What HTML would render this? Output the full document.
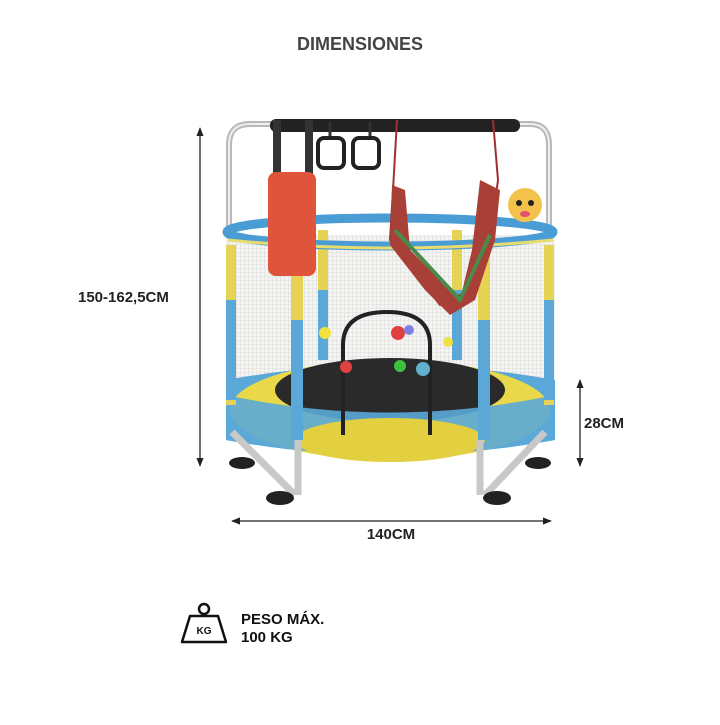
<!DOCTYPE html>
<html><head><meta charset="utf-8"><style>
body{margin:0;background:#fff;width:720px;height:720px;overflow:hidden;font-family:"Liberation Sans",sans-serif}
</style></head><body>
<svg width="720" height="720" viewBox="0 0 720 720" xmlns="http://www.w3.org/2000/svg">
<defs>
<pattern id="net" width="4" height="4" patternUnits="userSpaceOnUse"><rect width="4" height="4" fill="#f4f4f2"/><path d="M0 0H4M0 0V4" stroke="#c9c9c9" stroke-width="0.6"/></pattern>
<marker id="ah" viewBox="0 0 10 10" refX="9" refY="5" markerWidth="7" markerHeight="7" orient="auto-start-reverse"><path d="M0 1L10 5L0 9z" fill="#222"/></marker>
</defs>
<text x="360" y="50" text-anchor="middle" font-size="18" font-weight="bold" fill="#444">DIMENSIONES</text>
<!-- arrows -->
<line x1="200" y1="128" x2="200" y2="466" stroke="#222" stroke-width="1.3" marker-start="url(#ah)" marker-end="url(#ah)"/>
<line x1="232" y1="521" x2="551" y2="521" stroke="#222" stroke-width="1.3" marker-start="url(#ah)" marker-end="url(#ah)"/>
<line x1="580" y1="380" x2="580" y2="466" stroke="#222" stroke-width="1.3" marker-start="url(#ah)" marker-end="url(#ah)"/>
<text x="78" y="302" font-size="15" font-weight="bold" fill="#222">150-162,5CM</text>
<text x="584" y="428" font-size="15" font-weight="bold" fill="#222">28CM</text>
<text x="391" y="539" text-anchor="middle" font-size="15" font-weight="bold" fill="#222">140CM</text>
<!-- frame uprights -->
<path d="M229 440V145Q229 124 250 124H530Q549 124 549 145V440" fill="none" stroke="#b8b8b8" stroke-width="6"/>
<path d="M229 440V145Q229 124 250 124H530Q549 124 549 145V440" fill="none" stroke="#eee" stroke-width="2"/>
<rect x="270" y="119" width="250" height="13" rx="6" fill="#222"/>
<!-- net -->
<path d="M226 235H555V440H226Z" fill="url(#net)"/>
<!-- lower blue band -->
<path d="M226 380Q390 350 555 380V440Q390 470 226 440Z" fill="#5aa8d8"/>
<ellipse cx="390" cy="410" rx="160" ry="50" fill="#e8d84a"/>
<ellipse cx="390" cy="390" rx="115" ry="32" fill="#2a2a2a"/>
<path d="M226 395Q390 430 555 395V440Q390 470 226 440Z" fill="#5aa8d8" opacity="0.9"/>
<ellipse cx="390" cy="440" rx="95" ry="22" fill="#e2d040"/>
<!-- poles -->
<rect x="318" y="230" width="10" height="130" fill="#e6d355"/><rect x="318" y="290" width="10" height="70" fill="#5aa8d8"/>
<rect x="452" y="230" width="10" height="130" fill="#e6d355"/><rect x="452" y="290" width="10" height="70" fill="#5aa8d8"/>
<rect x="291" y="245" width="12" height="195" fill="#e6d355"/><rect x="291" y="320" width="12" height="120" fill="#5aa8d8"/>
<rect x="478" y="245" width="12" height="195" fill="#e6d355"/><rect x="478" y="320" width="12" height="120" fill="#5aa8d8"/>
<rect x="226" y="245" width="10" height="160" fill="#e6d355"/><rect x="226" y="300" width="10" height="100" fill="#5aa8d8"/>
<rect x="544" y="245" width="10" height="160" fill="#e6d355"/><rect x="544" y="300" width="10" height="100" fill="#5aa8d8"/>
<!-- top ring -->
<ellipse cx="390" cy="232" rx="163" ry="14" fill="none" stroke="#4a9cd4" stroke-width="9"/>
<path d="M228 240Q390 256 553 240" fill="none" stroke="#e8dc70" stroke-width="3"/>
<!-- arch -->
<path d="M343 435V345Q343 312 387 312Q430 312 430 345V435" fill="none" stroke="#222" stroke-width="4"/>
<!-- balls -->
<circle cx="325" cy="333" r="6" fill="#f0e040"/><circle cx="398" cy="333" r="7" fill="#e04040"/><circle cx="409" cy="330" r="5" fill="#8080e0"/>
<circle cx="448" cy="342" r="5" fill="#f0e040"/><circle cx="346" cy="367" r="6" fill="#e04040"/><circle cx="400" cy="366" r="6" fill="#40c040"/><circle cx="423" cy="369" r="7" fill="#60b0d0"/>
<!-- legs -->
<path d="M232 432L295 495M298 440V495M480 440V495M545 432L485 495" stroke="#c8c8c8" stroke-width="7" fill="none"/>
<ellipse cx="242" cy="463" rx="13" ry="6" fill="#222"/><ellipse cx="280" cy="498" rx="14" ry="7" fill="#222"/>
<ellipse cx="497" cy="498" rx="14" ry="7" fill="#222"/><ellipse cx="538" cy="463" rx="13" ry="6" fill="#222"/>
<!-- bag -->
<rect x="273" y="120" width="8" height="55" fill="#333"/><rect x="305" y="120" width="8" height="55" fill="#333"/>
<rect x="268" y="172" width="48" height="104" rx="8" fill="#e0543c"/>
<!-- rings -->
<path d="M330 122V138M370 122V138" stroke="#333" stroke-width="3"/>
<rect x="318" y="138" width="26" height="30" rx="6" fill="none" stroke="#222" stroke-width="4"/>
<rect x="353" y="138" width="26" height="30" rx="6" fill="none" stroke="#222" stroke-width="4"/>
<!-- hammock -->
<path d="M397 120L393 190L390 240L440 305L470 290L490 240L498 180L493 120" fill="none" stroke="#a03030" stroke-width="2"/>
<path d="M392 185L405 190L410 250L460 300L472 250L480 180L500 190L495 240L475 300L450 315L425 290L390 245Z" fill="#a84038"/>
<path d="M395 230L460 300L490 235" fill="none" stroke="#4a8a4a" stroke-width="4"/>
<!-- tiger -->
<circle cx="525" cy="205" r="17" fill="#f2c24a"/><circle cx="519" cy="203" r="3" fill="#222"/><circle cx="531" cy="203" r="3" fill="#222"/><ellipse cx="525" cy="214" rx="5" ry="3" fill="#e05070"/>
<!-- weight icon -->
<circle cx="204" cy="609" r="5" fill="none" stroke="#111" stroke-width="2.5"/>
<path d="M190 616H218L226 642H182Z" fill="none" stroke="#111" stroke-width="2.5" stroke-linejoin="round"/>
<text x="204" y="634" text-anchor="middle" font-size="10" font-weight="bold" fill="#111">KG</text>
<text x="241" y="624" font-size="15" font-weight="bold" fill="#111">PESO MÁX.</text>
<text x="241" y="642" font-size="15" font-weight="bold" fill="#111">100 KG</text>
</svg>
</body></html>
